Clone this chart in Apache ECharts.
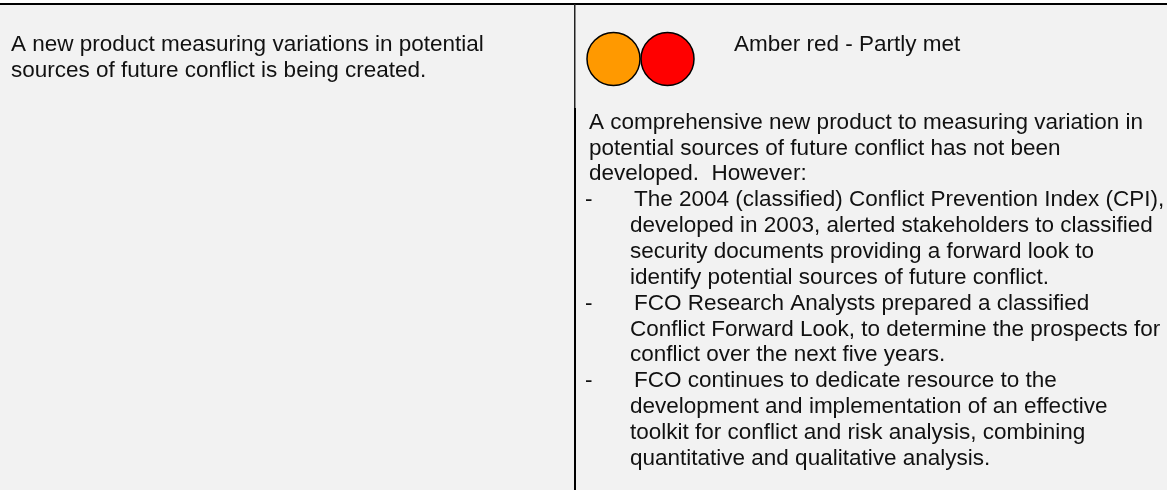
<!DOCTYPE html>
<html>
<head>
<meta charset="utf-8">
<script src="https://cdn.jsdelivr.net/npm/echarts@6/dist/echarts.min.js"></script>
<style>
  html, body { margin: 0; padding: 0; background: #fff; }
  #main { width: 1167px; height: 490px; }
</style>
</head>
<body>
<div id="main"></div>
<script>
// status lights
var lightNames = ['Amber', 'Red']
var lightColors = ['#ff9900', '#ff0000']
var statusLabel = 'Amber red - Partly met'

// left cell, one entry per line
var targetLines = [
  'A new product measuring variations in potential',
  'sources of future conflict is being created.'
]
// right cell: [indent kind, text]
var bodyLines = [
  ['p', 'A comprehensive new product to measuring variation in'],
  ['p', 'potential sources of future conflict has not been'],
  ['p', 'developed.  However:'],
  ['b', 'The 2004 (classified) Conflict Prevention Index (CPI),'],
  ['c', 'developed in 2003, alerted stakeholders to classified'],
  ['c', 'security documents providing a forward look to'],
  ['c', 'identify potential sources of future conflict.'],
  ['b', 'FCO Research Analysts prepared a classified'],
  ['c', 'Conflict Forward Look, to determine the prospects for'],
  ['c', 'conflict over the next five years.'],
  ['b', 'FCO continues to dedicate resource to the'],
  ['c', 'development and implementation of an effective'],
  ['c', 'toolkit for conflict and risk analysis, combining'],
  ['c', 'quantitative and qualitative analysis.']
]

var indent = { p: 589, c: 630, b: 634 }
var fontFamily = '"Liberation Sans", Arial, sans-serif'
var fontSize = 22.5

function textEl(x, y, str) {
  return {
    type: 'text',
    silent: true,
    x: x,
    y: y,
    style: { text: str, fill: '#111', font: fontSize + 'px ' + fontFamily, verticalAlign: 'middle' }
  }
}

var elements = [
  { type: 'rect', silent: true, z: -1, shape: { x: 0, y: 4, width: 1167, height: 486 }, style: { fill: '#f2f2f2' } },
  { type: 'rect', silent: true, shape: { x: 0, y: 3, width: 1167, height: 2 }, style: { fill: '#000' } },
  { type: 'rect', silent: true, shape: { x: 574, y: 4, width: 1.5, height: 104 }, style: { fill: '#222' } },
  { type: 'rect', silent: true, shape: { x: 574, y: 108, width: 2, height: 382 }, style: { fill: '#000' } }
]

targetLines.forEach(function (line, i) {
  elements.push(textEl(11, 44.5 + i * 26, line))
})
elements.push(textEl(734, 44.5, statusLabel))

bodyLines.forEach(function (row, i) {
  var y = 122.5 + i * 25.85
  if (row[0] === 'b') {
    elements.push(textEl(585, y, '-'))
  }
  elements.push(textEl(indent[row[0]], y, row[1]))
})

var chart = echarts.init(document.getElementById('main'))
chart.setOption({
  animation: false,
  graphic: { elements: elements },
  grid: { left: 586.5, top: 32, width: 108, height: 54 },
  xAxis: { type: 'category', data: lightNames, show: false },
  yAxis: { type: 'value', min: 0, max: 2, show: false },
  series: [{
    type: 'scatter',
    silent: true,
    symbol: 'circle',
    symbolSize: 53,
    data: lightNames.map(function (name, i) {
      return { value: [name, 1], itemStyle: { color: lightColors[i] } }
    }),
    itemStyle: { borderColor: '#000', borderWidth: 1.5, opacity: 1 }
  }]
})
</script>
</body>
</html>
